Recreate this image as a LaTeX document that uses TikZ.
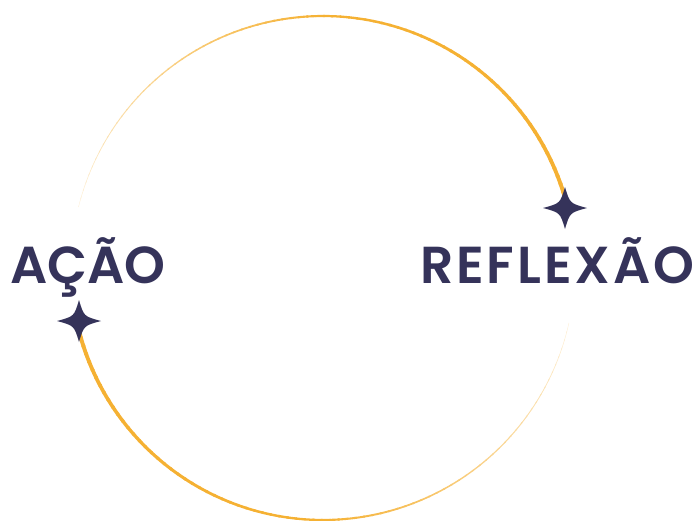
\documentclass[tikz,border=0pt]{standalone}
\usepackage{fontspec}
\setmainfont{Poppins}[UprightFont=* SemiBold]
\newfontfamily\widefont{Poppins}[UprightFont=* SemiBold, LetterSpace=5.5]
\definecolor{ringorange}{HTML}{F5B133}
\definecolor{inkblue}{HTML}{35335A}
% four pointed star, centre given, half width #2, half height #3
\newcommand{\sparkle}[3]{%
  \fill[inkblue] ($(#1)+(#2,0)$)
    .. controls ($(#1)+(0.22*#2,0.22*#3)$) .. ($(#1)+(0,#3)$)
    .. controls ($(#1)+(-0.22*#2,0.22*#3)$) .. ($(#1)+(-#2,0)$)
    .. controls ($(#1)+(-0.22*#2,-0.22*#3)$) .. ($(#1)+(0,-#3)$)
    .. controls ($(#1)+(0.22*#2,-0.22*#3)$) .. cycle;}
\usetikzlibrary{calc}
\begin{document}
\begin{tikzpicture}[x=1pt, y=-1pt]
\tikzset{word/.style={anchor=base west, inner sep=0pt, text=inkblue, font=\fontsize{52}{52}\selectfont}}
\useasboundingbox (0,0) rectangle (699,520);

% ring: top half grows towards the right star
\foreach \i in {0,...,79}{
  \pgfmathsetmacro{\t}{\i/79}
  \pgfmathsetmacro{\aa}{166-\i*152/80}
  \pgfmathsetmacro{\ab}{\aa-152/80-0.4}
  \pgfmathsetmacro{\w}{0.4+3.6*\t}
  \pgfmathsetmacro{\c}{min(100,20+160*\t)}
  \draw[ringorange!\c!white, line width=\w pt]
    ({323+252*cos(\aa)},{268-252*sin(\aa)}) arc[start angle=-\aa, end angle=-\ab, radius=252];
}
% ring: bottom half fades towards the right
\foreach \i in {0,...,79}{
  \pgfmathsetmacro{\t}{1-\i/79}
  \pgfmathsetmacro{\aa}{192+\i*155/80}
  \pgfmathsetmacro{\ab}{\aa+155/80+0.4}
  \pgfmathsetmacro{\w}{0.4+3.6*\t}
  \pgfmathsetmacro{\c}{min(100,20+160*\t)}
  \draw[ringorange!\c!white, line width=\w pt]
    ({323+252*cos(\aa)},{268-252*sin(\aa)}) arc[start angle=-\aa, end angle=-\ab, radius=252];
}

\coordinate (starR) at (565,208);
\coordinate (starL) at (79,321);
\sparkle{starR}{22}{21}
\sparkle{starL}{22}{21}

\node[word] (acao) at (10,283) {AÇÃO};
\node[word] (reflexao) at (420,283) {\widefont REFLEXÃO};
\end{tikzpicture}
\end{document}
